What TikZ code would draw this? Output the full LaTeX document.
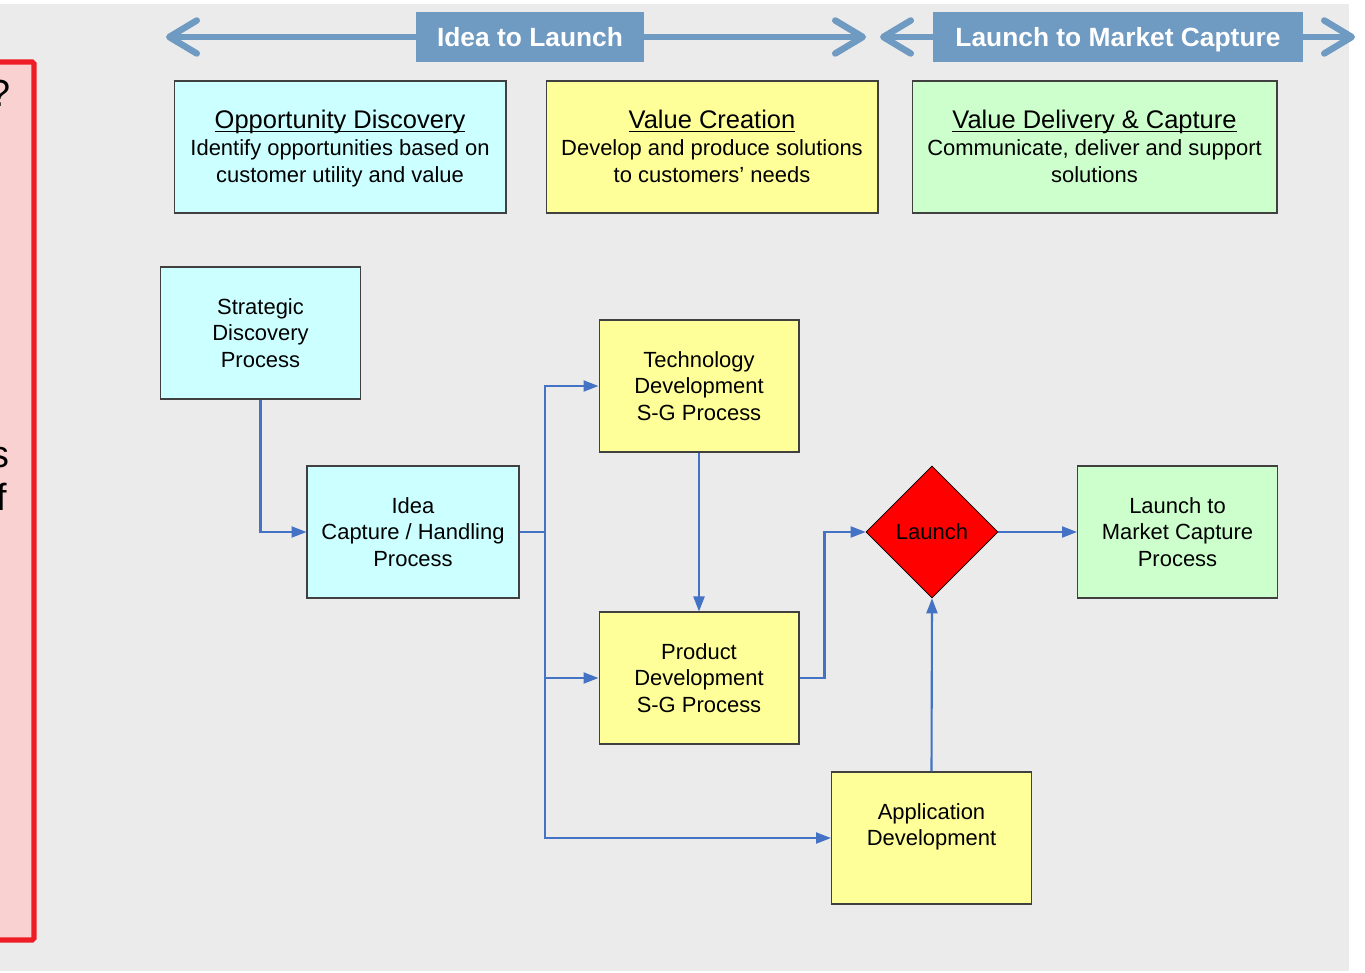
\documentclass[tikz,border=0pt]{standalone}
\usepackage{fontspec}
\setmainfont{Liberation Sans}
\usetikzlibrary{shapes.geometric, arrows.meta, positioning, calc}
\definecolor{bgGrey}{HTML}{EAEBEA}
\definecolor{bannerBlue}{HTML}{6F9AC2}
\definecolor{flowBlue}{HTML}{4472C4}
\definecolor{oppCyan}{HTML}{CCFFFF}
\definecolor{valYellow}{HTML}{FFFF99}
\definecolor{delGreen}{HTML}{CCFFCC}
\definecolor{alertRed}{HTML}{EE1C25}
\definecolor{alertPink}{HTML}{F9D1D1}
\tikzstyle{phase} = [rectangle, draw=black!75, line width=0.6pt, minimum width=6.64cm, minimum height=2.64cm, align=center, text depth=0pt, font=\fontsize{12.5}{15.4}\selectfont]
\tikzstyle{process} = [rectangle, draw=black!75, line width=0.6pt, minimum width=4cm, minimum height=2.64cm, align=center, font=\fontsize{12.5}{15.1}\selectfont]
\tikzstyle{banner} = [rectangle, fill=bannerBlue, text=white, minimum height=1.02cm, inner sep=0pt, text depth=0pt, font=\bfseries\fontsize{15}{18}\selectfont]
\tikzstyle{spanline} = [bannerBlue, line width=3.7pt, {Straight Barb[length=0.55cm, width=0.66cm, round]}-{Straight Barb[length=0.55cm, width=0.66cm, round]}]
\tikzstyle{arrow} = [flowBlue, line width=1.2pt, -{Triangle[length=0.3cm, width=0.22cm]}]
\tikzstyle{cutoff} = [anchor=base east, inner sep=0pt, font=\fontsize{21.5}{25}\selectfont]
\newcommand{\phasetitle}[1]{{\fontsize{14.5}{17}\selectfont\underline{\smash{#1}}\vphantom{V}}}

\begin{document}
\begin{tikzpicture}[x=0.02cm, y=-0.02cm]
    \useasboundingbox (0,0) rectangle (1365,973);
    \fill [bgGrey] (0,4) rectangle (1349,971);

    % Side panel
    \draw [alertRed, fill=alertPink, line width=2.9pt, rounded corners=1pt] (-20,62) rectangle (34,940);
    \node (askmark) at (11,107) [cutoff] {?};
    \node (tailS) at (10,467) [cutoff] {s};
    \node (tailF) at (7,510) [cutoff] {f};

    % Stages
    \coordinate (ilStart) at (166,37);
    \coordinate (ilEnd) at (866,37);
    \coordinate (lmStart) at (880,37);
    \coordinate (lmEnd) at (1355,37);
    \draw [spanline] (ilStart) -- node[banner, pos=0.52, minimum width=4.56cm] (ideaLaunch) {Idea to Launch} (ilEnd);
    \draw [spanline] (lmStart) -- node[banner, pos=0.501, minimum width=7.4cm] (launchMarket) {Launch to Market Capture} (lmEnd);

    % Phases
    \node (opportunity) at (340,147) [phase, fill=oppCyan] {\phasetitle{Opportunity Discovery}\\Identify opportunities based on\\customer utility and value};
    \node (creation) at (712,147) [phase, fill=valYellow] {\phasetitle{Value Creation}\\Develop and produce solutions\\to customers’ needs};
    \node (delivery) at (1094.5,147) [phase, fill=delGreen, minimum width=7.3cm] {\phasetitle{Value Delivery \& Capture}\\Communicate, deliver and support\\solutions};

    % Processes
    \node (strategic) at (260.5,333) [process, fill=oppCyan] {Strategic\\Discovery\\Process};
    \node (idea) at (413,532) [process, fill=oppCyan, minimum width=4.24cm] {Idea\\Capture / Handling\\Process};
    \node (tech) at (699,386) [process, fill=valYellow] {Technology\\Development\\S-G Process};
    \node (product) at (699,678) [process, fill=valYellow] {Product\\Development\\S-G Process};
    \node (launch) at (932,532) [diamond, draw=black, fill=red, minimum width=2.64cm, minimum height=2.64cm, inner sep=0pt, aspect=1, font=\fontsize{12.5}{15.1}\selectfont] {Launch};
    \node (market) at (1177.5,532) [process, fill=delGreen] {Launch to\\Market Capture\\Process};
    \node (app) at (931.5,838) [process, fill=valYellow] {Application\\Development\\\mbox{}};

    % Flow
    \coordinate (split) at (545,532);
    \draw [arrow] (strategic.south) |- (idea.west);
    \draw [flowBlue, line width=1.2pt] (idea.east) -- (split);
    \draw [arrow] (split) |- (tech.west);
    \draw [arrow] (split) |- (product.west);
    \draw [arrow] (split) |- (app.west);
    \draw [arrow] (tech.south) -- (product.north);
    \draw [arrow] (product.east) -- ++(25,0) |- (launch.west);
    \draw [arrow] (launch.east) -- (market.west);
    \draw [arrow] (app.north) -- (launch.south);
\end{tikzpicture}
\end{document}
